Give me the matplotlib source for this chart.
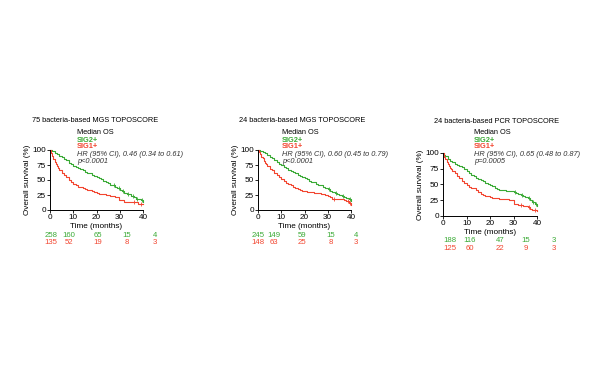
import matplotlib
matplotlib.use("Agg")
import matplotlib.pyplot as plt

plt.rcParams['font.family'] = ['Liberation Sans', 'DejaVu Sans']

GREEN = '#3aaa35'
RED = '#f2452f'
W, H = 600, 365

# Panel titles and stats
titles = ["75 bacteria-based MGS TOPOSCORE",
          "24 bacteria-based MGS TOPOSCORE",
          "24 bacteria-based PCR TOPOSCORE"]
hr_text = ["HR (95% CI), 0.46 (0.34 to 0.61)",
           "HR (95% CI), 0.60 (0.45 to 0.79)",
           "HR (95% CI), 0.65 (0.48 to 0.87)"]
p_text = ["p<0.0001", "p<0.0001", "p=0.0005"]

# Kaplan-Meier curves (time in months, survival in %)
g1_t = [0, 1, 2, 3, 4, 5, 6, 7, 8, 9, 10, 11, 12, 13, 14, 15, 16, 17, 18, 19, 20,
        21, 22, 23, 24, 25, 26, 27, 28, 29, 30, 31, 32, 33, 34, 35, 36, 37, 38, 39, 40]
g1_s = [100, 98, 95, 93, 90, 88, 85, 83, 79, 77, 74, 72, 70, 68, 66, 64, 62, 61, 59, 57, 55,
        53, 51, 49, 47, 45, 42, 41, 39, 37, 33, 31, 29, 27, 26, 24, 22, 19, 18, 16, 14]
r1_t = [0, 0.5, 1, 1.5, 2, 2.5, 3, 3.5, 4, 5, 6, 7, 8, 9, 10, 11, 12, 13, 14, 15, 16,
        17, 18, 19, 20, 21, 22, 24, 26, 28, 29.5, 32, 34, 38, 40]
r1_s = [100, 95, 90, 85, 80, 76, 73, 70, 66, 62, 58, 55, 50, 47, 44, 41, 39, 38, 36, 35, 34,
        33, 31, 30, 28, 27, 26, 25, 23, 22, 16, 14, 13, 10, 10]

g2_t = [0, 1, 2, 3, 4, 5, 6, 7, 8, 9, 10, 11, 12, 13, 14, 15, 16, 17, 18, 19, 20,
        21, 22, 23, 24, 25, 26, 27, 28, 29, 30, 31, 32, 33, 34, 35, 36, 37, 38, 39, 40]
g2_s = [100, 99, 97, 95, 92, 89, 86, 83, 80, 77, 75, 72, 70, 67, 65, 63, 61, 58, 57, 55, 53,
        51, 49, 47, 46, 44, 42, 41, 39, 37, 35, 31, 30, 28, 27, 25, 23, 22, 20, 18, 15]
r2_t = [0, 0.5, 1, 1.5, 2, 2.5, 3, 3.5, 4, 5, 6, 7, 8, 9, 10, 11, 12, 13, 14, 15, 16,
        17, 18, 19, 20, 21, 24, 27, 29, 30, 31, 32, 35, 37, 38, 39, 40]
r2_s = [100, 96, 93, 89, 86, 82, 79, 76, 73, 69, 66, 62, 58, 55, 51, 48, 45, 43, 41, 39, 37,
        35, 33, 32, 31, 30, 29, 27, 25, 23, 22, 18, 18, 16, 15, 12, 9]

g3_t = [0, 0.5, 1, 2, 3, 4, 5, 6, 7, 8, 9, 10, 11, 12, 13, 14, 15, 16, 17, 18, 19, 20,
        21, 22, 23, 24, 25, 27, 29, 30, 31, 32, 33, 34, 35, 36, 37, 38, 39, 40]
g3_s = [100, 97, 95, 91, 88, 86, 83, 81, 79, 77, 74, 71, 68, 65, 63, 61, 59, 57, 55, 53, 51, 49,
        47, 45, 43, 42, 41, 40, 39, 38, 36, 35, 33, 32, 30, 29, 25, 22, 19, 16]
r3_t = [0, 0.5, 1, 1.5, 2, 2.5, 3, 3.5, 4, 5, 6, 7, 8, 9, 10, 11, 12, 13, 14, 15, 16,
        17, 18, 19, 20, 21, 24, 28, 29, 30, 32, 34, 36, 37, 38, 40]
r3_s = [100, 94, 90, 86, 82, 79, 76, 74, 72, 68, 64, 60, 56, 52, 49, 46, 45, 44, 41, 38, 35,
        33, 32, 31, 30, 29, 27, 26, 25, 19, 18, 16, 14, 11, 10, 8]

# censoring marks (months)
g_cens = [[27.5, 29.5, 31.5, 33.5, 35.5, 37.5, 39.5], [30.5, 33.5, 36.5, 39.5], [30.5, 33.5, 36.5, 38.5, 39.5]]
r_cens = [[36, 39], [32.5, 38.5, 39.5], [33, 36.5, 39]]

# numbers at risk
risk_g = [[258, 160, 65, 15, 4], [245, 149, 59, 15, 4], [188, 116, 47, 15, 3]]
risk_r = [[135, 52, 19, 8, 3], [148, 63, 25, 8, 3], [125, 60, 22, 9, 3]]

curves = [(g1_t, g1_s, r1_t, r1_s), (g2_t, g2_s, r2_t, r2_s), (g3_t, g3_s, r3_t, r3_s)]

# layout in pixels: axes left, top, width, height
boxes = [(50, 150, 93, 60), (258, 150, 93, 60), (443, 153, 94, 63)]
title_xy = [(95, 120), (302, 120), (497, 121)]
legend_xy = [(77, 133), (282, 133), (474, 133)]
risk_x = [[51, 69, 98, 127, 155], [258, 274, 302, 331, 356], [450, 470, 500, 526, 554]]
risk_y = [(235.5, 243), (235.5, 243), (240, 248)]

FS = 5.3
FS_TICK = 5.9
FS_RISK = 5.6

fig = plt.figure(figsize=(W / 100, H / 100), dpi=100)
fig.patch.set_facecolor('white')


def fx(px):
    return px / W


def fy(py):
    return 1 - py / H


for i in range(3):
    l, t, w, h = boxes[i]
    ax = fig.add_axes([fx(l), fy(t + h), w / W, h / H])
    gt, gs, rt, rs = curves[i]
    ax.plot(gt, gs, drawstyle='steps-post', color=GREEN, lw=0.8, clip_on=False)
    ax.plot(rt, rs, drawstyle='steps-post', color=RED, lw=0.8, clip_on=False)

    # censor ticks on the curves
    for ct, col, tt, ss in [(g_cens[i], GREEN, gt, gs), (r_cens[i], RED, rt, rs)]:
        ys = []
        for c in ct:
            k = max(j for j in range(len(tt)) if tt[j] <= c)
            ys.append(ss[k])
        ax.plot(ct, ys, ls='none', marker='|', ms=2.2, mew=0.6, color=col, clip_on=False)

    ax.set_xlim(0, 40)
    ax.set_ylim(0, 100)
    ax.set_xticks([0, 10, 20, 30, 40])
    ax.set_yticks([0, 25, 50, 75, 100])
    ax.tick_params(labelsize=FS_TICK, length=2, width=0.6, pad=1)
    for s in ['top', 'right']:
        ax.spines[s].set_visible(False)
    for s in ['left', 'bottom']:
        ax.spines[s].set_linewidth(0.7)
    ax.set_xlabel('Time (months)', fontsize=FS_TICK, labelpad=1)
    ax.set_ylabel('Overall survival (%)', fontsize=FS_TICK, labelpad=1)

    fig.text(fx(title_xy[i][0]), fy(title_xy[i][1]), titles[i], fontsize=FS,
             ha='center', va='center')
    lx, ly = legend_xy[i]
    fig.text(fx(lx), fy(ly), 'Median OS', fontsize=FS, ha='left', va='center')
    fig.text(fx(lx), fy(ly + 7), 'SIG2+', fontsize=FS, ha='left', va='center',
             color=GREEN, fontweight='bold')
    fig.text(fx(lx), fy(ly + 14), 'SIG1+', fontsize=FS, ha='left', va='center',
             color=RED, fontweight='bold')
    fig.text(fx(lx), fy(ly + 21), hr_text[i], fontsize=FS, ha='left', va='center',
             color='#333333', style='italic')
    fig.text(fx(lx), fy(ly + 28), p_text[i], fontsize=FS, ha='left', va='center',
             color='#333333', style='italic')

    for j in range(5):
        fig.text(fx(risk_x[i][j]), fy(risk_y[i][0]), str(risk_g[i][j]), fontsize=FS_RISK,
                 ha='center', va='center', color=GREEN)
        fig.text(fx(risk_x[i][j]), fy(risk_y[i][1]), str(risk_r[i][j]), fontsize=FS_RISK,
                 ha='center', va='center', color=RED)

fig.savefig('out.png', dpi=100, facecolor='white')
